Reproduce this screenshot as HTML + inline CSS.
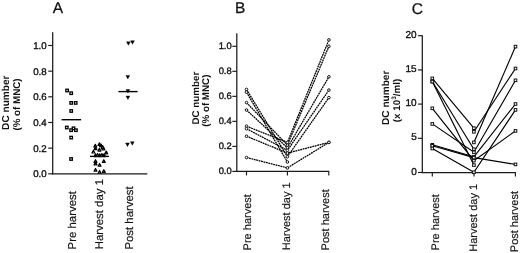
<!DOCTYPE html>
<html><head><meta charset="utf-8"><style>
html,body{margin:0;padding:0;background:#fff;}
body{width:520px;height:253px;overflow:hidden;}
svg{display:block;}
text{font-family:"Liberation Sans",Arial,sans-serif;fill:#111;text-rendering:geometricPrecision;}
.pl{font-size:15.5px;stroke:#111;stroke-width:0.25;}
.tl{font-size:9.7px;text-anchor:end;stroke:#111;stroke-width:0.35;}
.tlc{font-size:10px;}
.tlb{font-size:9.4px;}
.yl{font-size:9.8px;font-weight:bold;}
.yl2{font-size:10.1px;}
.sup{font-size:6.5px;}
.xl{font-size:11.4px;stroke:#111;stroke-width:0.15;}
.xl2{font-size:11px;stroke:#111;stroke-width:0.15;}
.ax{stroke:#1a1a1a;stroke-width:1.25;}
.tk{stroke:#1a1a1a;stroke-width:1.15;}
.mn{stroke:#000;stroke-width:1.4;}
.sq{fill:#fff;stroke:#000;stroke-width:1.3;}
.sq2{fill:#fff;stroke:#111;stroke-width:1;}
.tu{fill:#fff;stroke:#000;stroke-width:1.2;stroke-linejoin:round;}
.td{fill:#000;stroke:#000;stroke-width:0.4;stroke-linejoin:round;}
.dl{fill:none;stroke:#000;stroke-width:1.25;stroke-dasharray:1.9 0.6;}
.sl{fill:none;stroke:#000;stroke-width:1.15;}
.ci{fill:#fff;stroke:#111;stroke-width:1;}
</style></head><body>
<svg width="520" height="253" viewBox="0 0 520 253">
<line x1="52.7" y1="32.3" x2="52.7" y2="174.4" class="ax"/>
<line x1="52.1" y1="173.8" x2="147.3" y2="173.8" class="ax"/>
<line x1="48.2" y1="173.8" x2="52.7" y2="173.8" class="tk"/>
<text x="46.7" y="177.3" class="tl">0.0</text>
<line x1="48.2" y1="148.14" x2="52.7" y2="148.14" class="tk"/>
<text x="46.7" y="151.64" class="tl">0.2</text>
<line x1="48.2" y1="122.48" x2="52.7" y2="122.48" class="tk"/>
<text x="46.7" y="125.98" class="tl">0.4</text>
<line x1="48.2" y1="96.82" x2="52.7" y2="96.82" class="tk"/>
<text x="46.7" y="100.32" class="tl">0.6</text>
<line x1="48.2" y1="71.16" x2="52.7" y2="71.16" class="tk"/>
<text x="46.7" y="74.66" class="tl">0.8</text>
<line x1="48.2" y1="45.5" x2="52.7" y2="45.5" class="tk"/>
<text x="46.7" y="49" class="tl">1.0</text>
<line x1="61.6" y1="119.7" x2="81.1" y2="119.7" class="mn"/>
<line x1="90" y1="156.4" x2="108.9" y2="156.4" class="mn"/>
<line x1="118.4" y1="91.6" x2="137.6" y2="91.6" class="mn"/>
<rect x="65.85" y="89.25" width="2.5" height="2.5" class="sq"/>
<rect x="69.95" y="91.95" width="2.5" height="2.5" class="sq"/>
<rect x="69.95" y="101.65" width="2.5" height="2.5" class="sq"/>
<rect x="74.45" y="101.65" width="2.5" height="2.5" class="sq"/>
<rect x="69.95" y="109.75" width="2.5" height="2.5" class="sq"/>
<rect x="65.55" y="126.25" width="2.5" height="2.5" class="sq"/>
<rect x="72.25" y="127.05" width="2.5" height="2.5" class="sq"/>
<rect x="69.85" y="128.95" width="2.5" height="2.5" class="sq"/>
<rect x="74.65" y="128.95" width="2.5" height="2.5" class="sq"/>
<rect x="69.95" y="136.35" width="2.5" height="2.5" class="sq"/>
<rect x="69.85" y="157.75" width="2.5" height="2.5" class="sq"/>
<path d="M95.3 144.4L96.75 147.1L93.85 147.1Z" class="tu"/>
<path d="M95.5 147L96.95 149.7L94.05 149.7Z" class="tu"/>
<path d="M99.4 142.8L100.85 145.5L97.95 145.5Z" class="tu"/>
<path d="M101 144L102.45 146.7L99.55 146.7Z" class="tu"/>
<path d="M102.6 145.6L104.05 148.3L101.15 148.3Z" class="tu"/>
<path d="M99.4 148.4L100.85 151.1L97.95 151.1Z" class="tu"/>
<path d="M103.4 147.2L104.85 149.9L101.95 149.9Z" class="tu"/>
<path d="M93.4 150.3L94.85 153L91.95 153Z" class="tu"/>
<path d="M106.2 151.1L107.65 153.8L104.75 153.8Z" class="tu"/>
<path d="M95.5 153.9L96.95 156.6L94.05 156.6Z" class="tu"/>
<path d="M97.6 153.5L99.05 156.2L96.15 156.2Z" class="tu"/>
<path d="M99.8 153.9L101.25 156.6L98.35 156.6Z" class="tu"/>
<path d="M101.9 153.5L103.35 156.2L100.45 156.2Z" class="tu"/>
<path d="M104 153.9L105.45 156.6L102.55 156.6Z" class="tu"/>
<path d="M95.5 159.7L96.95 162.4L94.05 162.4Z" class="tu"/>
<path d="M95.5 162.2L96.95 164.9L94.05 164.9Z" class="tu"/>
<path d="M99.6 163.5L101.05 166.2L98.15 166.2Z" class="tu"/>
<path d="M103.8 159.7L105.25 162.4L102.35 162.4Z" class="tu"/>
<path d="M95.5 168.5L96.95 171.2L94.05 171.2Z" class="tu"/>
<path d="M99.6 170.5L101.05 173.2L98.15 173.2Z" class="tu"/>
<path d="M103.8 169.7L105.25 172.4L102.35 172.4Z" class="tu"/>
<path d="M126.5 41.8L130.3 41.8L128.4 45.3Z" class="td"/>
<path d="M130.6 40.7L134.4 40.7L132.5 44.2Z" class="td"/>
<path d="M125.9 75.4L129.7 75.4L127.8 78.9Z" class="td"/>
<path d="M126 89.6L129.8 89.6L127.9 93.1Z" class="td"/>
<path d="M126 96L129.8 96L127.9 99.5Z" class="td"/>
<path d="M125.6 143L129.4 143L127.5 146.5Z" class="td"/>
<path d="M130.4 141.7L134.2 141.7L132.3 145.2Z" class="td"/>
<line x1="236.8" y1="33.2" x2="236.8" y2="172" class="ax"/>
<line x1="236.2" y1="171.4" x2="329.2" y2="171.4" class="ax"/>
<line x1="232.3" y1="171.4" x2="236.8" y2="171.4" class="tk"/>
<text x="231.7" y="173.8" class="tl tlb">0.0</text>
<line x1="232.3" y1="146.38" x2="236.8" y2="146.38" class="tk"/>
<text x="231.7" y="148.78" class="tl tlb">0.2</text>
<line x1="232.3" y1="121.36" x2="236.8" y2="121.36" class="tk"/>
<text x="231.7" y="123.76" class="tl tlb">0.4</text>
<line x1="232.3" y1="96.34" x2="236.8" y2="96.34" class="tk"/>
<text x="231.7" y="98.74" class="tl tlb">0.6</text>
<line x1="232.3" y1="71.32" x2="236.8" y2="71.32" class="tk"/>
<text x="231.7" y="73.72" class="tl tlb">0.8</text>
<line x1="232.3" y1="46.3" x2="236.8" y2="46.3" class="tk"/>
<text x="231.7" y="48.7" class="tl tlb">1.0</text>
<line x1="246.5" y1="171.4" x2="246.5" y2="175.4" class="tk"/>
<line x1="287.4" y1="171.4" x2="287.4" y2="175.4" class="tk"/>
<line x1="328.8" y1="171.4" x2="328.8" y2="175.4" class="tk"/>
<path d="M246.5 89.4L287.4 156.7L328.9 97.6" class="dl"/>
<path d="M246.5 92.2L287.4 162" class="dl"/>
<path d="M246.5 102.6L287.4 145.1L328.9 46.3" class="dl"/>
<path d="M246.5 110L287.4 147.8L328.9 76.8" class="dl"/>
<path d="M246.5 126.2L287.4 142.4L328.9 39.9" class="dl"/>
<path d="M246.5 128.7L287.4 150.4L328.9 90.1" class="dl"/>
<path d="M246.5 136.2L287.4 153.1L328.9 142.4" class="dl"/>
<path d="M246.5 157.5L287.4 167.9L328.9 142.4" class="dl"/>
<circle cx="246.5" cy="89.4" r="1.3" class="ci"/>
<circle cx="287.4" cy="156.7" r="1.3" class="ci"/>
<circle cx="328.9" cy="97.6" r="1.3" class="ci"/>
<circle cx="246.5" cy="92.2" r="1.3" class="ci"/>
<circle cx="287.4" cy="162" r="1.3" class="ci"/>
<circle cx="246.5" cy="102.6" r="1.3" class="ci"/>
<circle cx="287.4" cy="145.1" r="1.3" class="ci"/>
<circle cx="328.9" cy="46.3" r="1.3" class="ci"/>
<circle cx="246.5" cy="110" r="1.3" class="ci"/>
<circle cx="287.4" cy="147.8" r="1.3" class="ci"/>
<circle cx="328.9" cy="76.8" r="1.3" class="ci"/>
<circle cx="246.5" cy="126.2" r="1.3" class="ci"/>
<circle cx="287.4" cy="142.4" r="1.3" class="ci"/>
<circle cx="328.9" cy="39.9" r="1.3" class="ci"/>
<circle cx="246.5" cy="128.7" r="1.3" class="ci"/>
<circle cx="287.4" cy="150.4" r="1.3" class="ci"/>
<circle cx="328.9" cy="90.1" r="1.3" class="ci"/>
<circle cx="246.5" cy="136.2" r="1.3" class="ci"/>
<circle cx="287.4" cy="153.1" r="1.3" class="ci"/>
<circle cx="328.9" cy="142.4" r="1.3" class="ci"/>
<circle cx="246.5" cy="157.5" r="1.3" class="ci"/>
<circle cx="287.4" cy="167.9" r="1.3" class="ci"/>
<circle cx="328.9" cy="142.4" r="1.3" class="ci"/>
<line x1="422.3" y1="35.3" x2="422.3" y2="173.1" class="ax"/>
<line x1="421.7" y1="172.5" x2="515.9" y2="172.5" class="ax"/>
<line x1="418" y1="172.5" x2="422.3" y2="172.5" class="tk"/>
<text x="416.7" y="174.5" class="tl tlc">0</text>
<line x1="418" y1="138.3" x2="422.3" y2="138.3" class="tk"/>
<text x="416.7" y="140.3" class="tl tlc">5</text>
<line x1="418" y1="104.1" x2="422.3" y2="104.1" class="tk"/>
<text x="416.7" y="106.1" class="tl tlc">10</text>
<line x1="418" y1="69.9" x2="422.3" y2="69.9" class="tk"/>
<text x="416.7" y="71.9" class="tl tlc">15</text>
<line x1="418" y1="35.7" x2="422.3" y2="35.7" class="tk"/>
<text x="416.7" y="37.7" class="tl tlc">20</text>
<line x1="432.3" y1="172.5" x2="432.3" y2="176.5" class="tk"/>
<line x1="474" y1="172.5" x2="474" y2="176.5" class="tk"/>
<line x1="515.4" y1="172.5" x2="515.4" y2="176.5" class="tk"/>
<path d="M432.3 78.4L473.9 128.2" class="sl"/>
<path d="M432.3 81.5L473.9 149.3" class="sl"/>
<path d="M432.3 81.6L473.9 165.1" class="sl"/>
<path d="M432.3 108.3L473.9 160.6L515.5 130.9" class="sl"/>
<path d="M432.3 123.9L473.9 152.3L515.5 80.3" class="sl"/>
<path d="M432.3 144.8L473.9 156.8L515.5 104" class="sl"/>
<path d="M432.3 145.8L473.9 157.6L515.5 164.4" class="sl"/>
<path d="M432.3 148.5L473.9 172.3L515.5 109.9" class="sl"/>
<path d="M473.9 131.8L515.5 68.5" class="sl"/>
<path d="M473.9 142.4L515.5 46.6" class="sl"/>
<rect x="431" y="77.1" width="2.6" height="2.6" class="sq2"/>
<rect x="472.6" y="126.9" width="2.6" height="2.6" class="sq2"/>
<rect x="431" y="80.2" width="2.6" height="2.6" class="sq2"/>
<rect x="472.6" y="148" width="2.6" height="2.6" class="sq2"/>
<rect x="431" y="80.3" width="2.6" height="2.6" class="sq2"/>
<rect x="472.6" y="163.8" width="2.6" height="2.6" class="sq2"/>
<rect x="431" y="107" width="2.6" height="2.6" class="sq2"/>
<rect x="472.6" y="159.3" width="2.6" height="2.6" class="sq2"/>
<rect x="514.2" y="129.6" width="2.6" height="2.6" class="sq2"/>
<rect x="431" y="122.6" width="2.6" height="2.6" class="sq2"/>
<rect x="472.6" y="151" width="2.6" height="2.6" class="sq2"/>
<rect x="514.2" y="79" width="2.6" height="2.6" class="sq2"/>
<rect x="431" y="143.5" width="2.6" height="2.6" class="sq2"/>
<rect x="472.6" y="155.5" width="2.6" height="2.6" class="sq2"/>
<rect x="514.2" y="102.7" width="2.6" height="2.6" class="sq2"/>
<rect x="431" y="144.5" width="2.6" height="2.6" class="sq2"/>
<rect x="472.6" y="156.3" width="2.6" height="2.6" class="sq2"/>
<rect x="514.2" y="163.1" width="2.6" height="2.6" class="sq2"/>
<rect x="431" y="147.2" width="2.6" height="2.6" class="sq2"/>
<rect x="472.6" y="171" width="2.6" height="2.6" class="sq2"/>
<rect x="514.2" y="108.6" width="2.6" height="2.6" class="sq2"/>
<rect x="472.6" y="130.5" width="2.6" height="2.6" class="sq2"/>
<rect x="514.2" y="67.2" width="2.6" height="2.6" class="sq2"/>
<rect x="472.6" y="141.1" width="2.6" height="2.6" class="sq2"/>
<rect x="514.2" y="45.3" width="2.6" height="2.6" class="sq2"/>
<text x="52.7" y="12.6" class="pl">A</text>
<text x="234.9" y="13.3" class="pl">B</text>
<text x="411.7" y="14.2" class="pl">C</text>
<text transform="translate(9.2 129.9) rotate(-90)" class="yl yl2">DC number</text>
<text transform="translate(19.8 130.6) rotate(-90)" class="yl">(% of MNC)</text>
<text transform="translate(198.7 124.5) rotate(-90)" class="yl">DC number</text>
<text transform="translate(208.6 126.8) rotate(-90)" class="yl">(% of MNC)</text>
<text transform="translate(389.2 125) rotate(-90)" class="yl yl2">DC number</text>
<text transform="translate(399.6 122.2) rotate(-90)" class="yl">(x 10<tspan class="sup" dy="-3.2">3</tspan><tspan dy="3.2">/ml)</tspan></text>
<text transform="translate(76 249.4) rotate(-90)" class="xl">Pre harvest</text>
<text transform="translate(102.7 249.3) rotate(-90)" class="xl">Harvest day 1</text>
<text transform="translate(132.9 249.6) rotate(-90)" class="xl">Post harvest</text>
<text transform="translate(251.3 250.4) rotate(-90)" class="xl2">Pre harvest</text>
<text transform="translate(290.4 250.3) rotate(-90)" class="xl2">Harvest day 1</text>
<text transform="translate(329.2 250.4) rotate(-90)" class="xl2">Post harvest</text>
<text transform="translate(439.1 250.4) rotate(-90)" class="xl2">Pre harvest</text>
<text transform="translate(476.9 251.8) rotate(-90)" class="xl2">Harvest day 1</text>
<text transform="translate(517.7 252.2) rotate(-90)" class="xl2">Post harvest</text>
</svg>
</body></html>
